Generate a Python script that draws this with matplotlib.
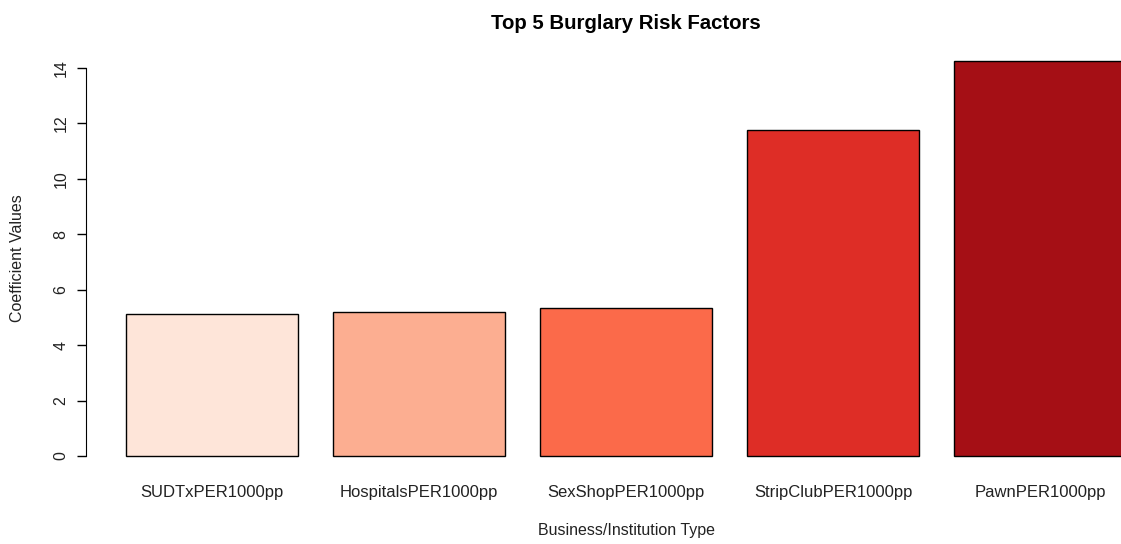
import matplotlib.pyplot as plt

# top 5 coefficients from the burglary model
factors = ["SUDTxPER1000pp", "HospitalsPER1000pp", "SexShopPER1000pp",
           "StripClubPER1000pp", "PawnPER1000pp"]
coefs = [5.14, 5.18, 5.34, 11.76, 14.24]
colors = ["#FEE5D9", "#FCAE91", "#FB6A4A", "#DE2D26", "#A50F15"]

plt.rcParams["font.family"] = ["Liberation Sans", "DejaVu Sans"]

fig = plt.figure(figsize=(11.21, 5.44), dpi=100)
# R-style plot region, right side runs off the picture like the original
ax = fig.add_axes([0.0767, 0.1327, 0.9639, 0.7837])

# barplot positions like R: width 1, space 0.2
centers = [0.7 + 1.2 * i for i in range(len(coefs))]
ax.bar(centers, coefs, width=1.0, color=colors, edgecolor="black", linewidth=1.0)

top = max(coefs)
ax.set_xlim(-0.032, 6.232)
ax.set_ylim(-0.04 * top, top * 1.04)

ax.set_yticks(range(0, 15, 2))
ax.set_yticklabels([str(v) for v in range(0, 15, 2)], rotation=90, va="center",
                   fontsize=11.5, color="#222222")
ax.tick_params(axis="y", length=6.5, width=1, pad=6)

ax.set_xticks(centers)
ax.set_xticklabels(factors, fontsize=12, color="#222222")
ax.tick_params(axis="x", length=0, pad=9.5)

for s in ["top", "right", "bottom"]:
    ax.spines[s].set_visible(False)
ax.spines["left"].set_bounds(0, 14)

ax.set_title("Top 5 Burglary Risk Factors", fontsize=14.7, fontweight="bold",
             x=(626 - 86) / (1166.5 - 86), y=1.0, pad=12)
fig.text(626 / 1121, 1 - 531 / 544, "Business/Institution Type", ha="center",
         va="center", fontsize=11.5, color="#222222")
fig.text(18 / 1121, 1 - 258 / 544, "Coefficient Values", ha="center",
         va="center", rotation=90, fontsize=11.5, color="#222222")

fig.savefig("out.png", dpi=100)
